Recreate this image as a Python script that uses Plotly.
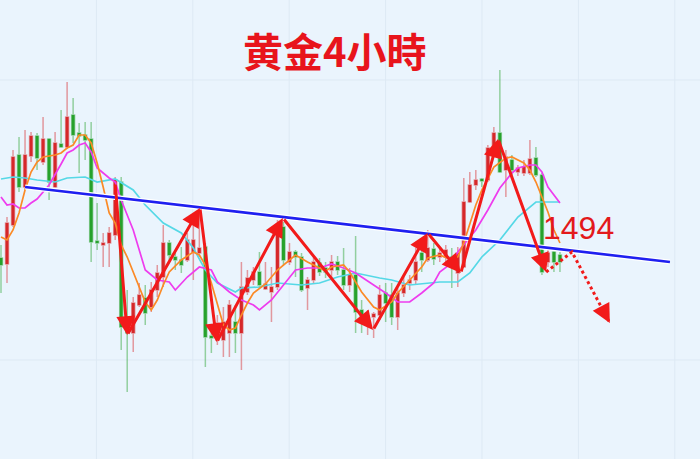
import plotly.graph_objects as go

# 4-hour gold candles (price in USD)
opens = [1492.4, 1491.2, 1499.0, 1513.0, 1506.6, 1512.8, 1516.8, 1511.6, 1516.2, 1506.6,
         1515.2, 1514.6, 1521.0, 1517.4, 1517.0, 1516.2, 1495.8, 1495.0, 1495.4, 1497.0,
         1507.6, 1478.6, 1477.4, 1483.0, 1484.4, 1482.6, 1486.0, 1488.6, 1495.4, 1492.6,
         1492.0, 1492.0, 1493.6, 1493.4, 1494.6, 1476.8, 1476.0, 1476.0, 1477.4, 1479.6,
         1477.4, 1485.6, 1488.0, 1489.6, 1486.2, 1485.6, 1486.6, 1498.6, 1491.6, 1493.6,
         1492.6, 1486.4, 1488.0, 1491.4, 1490.4, 1490.0, 1491.6, 1490.0, 1487.0, 1489.0,
         1482.0, 1480.2, 1480.6, 1481.0, 1485.4, 1485.0, 1480.6, 1485.4, 1487.4, 1488.0,
         1493.4, 1492.0, 1494.2, 1492.6, 1492.6, 1492.6, 1489.4, 1490.6, 1503.6, 1507.0,
         1508.2, 1508.0, 1514.0, 1517.4, 1510.0, 1512.0, 1509.6, 1509.4, 1509.4, 1512.4,
         1509.0, 1491.6, 1493.6, 1493.0]
highs = [1495.0, 1500.6, 1514.0, 1516.6, 1518.0, 1517.6, 1517.4, 1520.6, 1516.4, 1517.6,
         1522.0, 1527.6, 1524.4, 1519.4, 1519.6, 1519.6, 1503.4, 1497.4, 1498.6, 1508.6,
         1508.6, 1486.0, 1484.6, 1487.4, 1487.0, 1487.6, 1491.0, 1499.0, 1496.0, 1493.4,
         1494.6, 1497.4, 1500.6, 1502.6, 1495.4, 1478.0, 1481.0, 1482.6, 1484.0, 1483.0,
         1491.6, 1490.0, 1490.6, 1493.6, 1491.6, 1490.6, 1500.0, 1499.6, 1495.4, 1494.0,
         1493.4, 1488.6, 1492.6, 1492.4, 1491.6, 1493.0, 1492.8, 1494.4, 1490.4, 1496.8,
         1484.0, 1482.0, 1481.6, 1487.0, 1487.4, 1487.4, 1486.4, 1488.6, 1489.0, 1494.4,
         1495.4, 1498.0, 1495.4, 1494.6, 1495.0, 1494.4, 1494.6, 1508.4, 1509.6, 1510.0,
         1508.4, 1515.0, 1518.6, 1530.0, 1514.0, 1513.0, 1511.0, 1512.0, 1516.0, 1514.6,
         1509.4, 1494.4, 1494.0, 1493.6]
lows = [1485.4, 1487.4, 1498.6, 1505.6, 1506.0, 1511.6, 1510.0, 1511.0, 1504.0, 1506.4,
        1514.4, 1514.2, 1515.4, 1509.4, 1512.0, 1491.6, 1494.0, 1490.6, 1490.6, 1496.0,
        1474.0, 1465.6, 1473.6, 1482.6, 1479.0, 1481.6, 1484.6, 1486.6, 1492.0, 1490.0,
        1489.4, 1491.6, 1488.0, 1492.6, 1470.6, 1473.4, 1475.0, 1472.6, 1472.6, 1473.4,
        1470.0, 1485.0, 1487.0, 1486.4, 1486.0, 1479.6, 1486.0, 1491.0, 1491.0, 1488.6,
        1485.6, 1482.0, 1487.4, 1488.8, 1488.4, 1488.0, 1489.0, 1486.0, 1485.6, 1477.4,
        1477.4, 1477.0, 1476.4, 1480.0, 1479.6, 1479.0, 1478.0, 1484.6, 1486.0, 1487.0,
        1489.6, 1491.6, 1491.0, 1491.6, 1491.6, 1486.4, 1486.6, 1490.4, 1503.4, 1506.0,
        1506.6, 1507.6, 1512.6, 1509.4, 1504.6, 1509.0, 1508.8, 1508.8, 1509.0, 1508.6,
        1489.0, 1490.6, 1489.6, 1489.6]
closes = [1491.0, 1499.4, 1512.6, 1506.6, 1513.0, 1516.8, 1512.4, 1516.2, 1507.6, 1515.4,
          1514.6, 1520.6, 1517.0, 1516.8, 1516.0, 1495.6, 1495.4, 1495.4, 1497.4, 1508.0,
          1478.6, 1477.4, 1483.4, 1485.0, 1481.4, 1486.0, 1489.4, 1495.4, 1493.0, 1492.0,
          1491.0, 1496.0, 1496.0, 1494.4, 1476.6, 1476.4, 1479.4, 1479.6, 1483.0, 1477.4,
          1486.6, 1488.4, 1489.6, 1487.0, 1487.2, 1486.6, 1498.4, 1492.0, 1493.6, 1492.6,
          1486.0, 1488.0, 1491.6, 1489.6, 1489.6, 1491.6, 1490.0, 1487.0, 1489.0, 1481.6,
          1480.4, 1480.8, 1481.2, 1485.0, 1483.4, 1480.6, 1485.4, 1487.0, 1488.0, 1491.6,
          1492.0, 1494.4, 1492.2, 1493.4, 1494.0, 1490.6, 1493.4, 1503.6, 1507.0, 1508.0,
          1507.8, 1514.4, 1517.4, 1509.6, 1512.6, 1510.0, 1510.4, 1510.6, 1512.2, 1509.0,
          1489.6, 1493.4, 1491.6, 1491.6]
bars = list(range(len(opens)))

# moving averages, sampled at bar positions
ma_fast_x = [0, 1, 2, 3, 4, 5, 6, 7, 9, 10, 11, 12, 13, 14, 15, 16, 17, 18, 19, 20, 21, 22,
             23, 24, 25, 26, 27, 28, 30, 32, 33, 34, 35, 36, 37, 38, 39, 40, 41, 42, 44, 46,
             48, 49, 51, 53, 54, 55, 57, 58, 60, 62, 63, 65, 66, 68, 70, 71, 73, 75, 76, 77,
             78, 79, 80, 82, 84, 85, 87, 88, 89, 90, 91, 92, 93]
ma_fast_y = [1496.6, 1496.0, 1498.0, 1501.4, 1506.0, 1509.6, 1511.6, 1512.6, 1513.0, 1513.4,
             1514.4, 1515.0, 1517.0, 1517.0, 1515.4, 1511.4, 1506.6, 1501.4, 1499.4, 1495.0,
             1492.6, 1489.6, 1486.6, 1483.6, 1482.0, 1484.0, 1487.0, 1489.6, 1492.0, 1493.6,
             1493.0, 1491.0, 1487.4, 1483.0, 1479.0, 1478.0, 1478.4, 1481.0, 1483.4, 1485.4,
             1487.2, 1490.0, 1492.0, 1493.0, 1491.6, 1490.4, 1489.8, 1490.6, 1491.0, 1489.6,
             1485.6, 1482.6, 1482.0, 1483.6, 1485.4, 1488.0, 1490.6, 1492.4, 1493.0, 1492.0,
             1492.6, 1495.4, 1499.0, 1503.0, 1506.0, 1510.6, 1512.4, 1512.6, 1511.4, 1510.0,
             1507.6, 1504.6, 1501.6, 1498.0, 1495.4]
ma_mid_x = [0, 1, 2, 3, 4, 5, 6, 8, 10, 11, 12, 13, 14, 15, 16, 18, 19, 20, 22, 24, 26, 28,
            29, 31, 33, 35, 36, 38, 40, 42, 43, 45, 47, 49, 51, 53, 55, 57, 59, 62, 64, 66,
            68, 70, 72, 73, 75, 76, 79, 81, 83, 85, 86, 88, 89, 90, 91, 93]
ma_mid_y = [1504.6, 1503.0, 1503.2, 1502.4, 1502.4, 1503.4, 1504.2, 1507.0, 1511.2, 1513.4,
            1514.0, 1515.0, 1515.4, 1513.6, 1510.4, 1508.4, 1507.6, 1504.0, 1498.0, 1490.0,
            1488.0, 1487.6, 1486.0, 1488.6, 1490.6, 1490.0, 1487.6, 1485.6, 1484.0, 1483.0,
            1482.0, 1484.0, 1487.0, 1490.0, 1490.4, 1490.4, 1491.2, 1490.4, 1489.4, 1487.0,
            1485.4, 1483.6, 1483.6, 1485.4, 1487.4, 1489.6, 1491.4, 1493.6, 1498.0, 1502.0,
            1506.4, 1509.4, 1510.4, 1511.0, 1511.0, 1509.6, 1506.6, 1503.4]
ma_slow_x = [0, 2, 4, 6, 9, 11, 14, 16, 19, 22, 24, 27, 30, 32, 34, 36, 39, 40, 43, 46, 50,
             53, 56, 59, 63, 65, 68, 71, 73, 76, 78, 80, 83, 86, 89, 93]
ma_slow_y = [1508.2, 1508.6, 1508.4, 1508.0, 1507.6, 1508.4, 1508.6, 1507.6, 1508.2, 1506.0,
             1503.0, 1499.4, 1497.4, 1494.4, 1490.0, 1487.4, 1485.6, 1486.4, 1486.6, 1487.4,
             1487.0, 1487.4, 1488.6, 1489.4, 1488.4, 1488.0, 1487.0, 1487.4, 1487.6, 1487.6,
             1489.4, 1492.6, 1496.0, 1500.6, 1503.6, 1503.6]

# descending trend line (bar, price)
trend_x = [4.0, 111.3]
trend_y = [1506.6, 1491.6]

# swing path drawn with arrows, then the projected continuation
swing_x = [19.0, 21.0, 33.1, 35.9, 46.9, 61.9, 71.0, 76.5, 82.7, 90.7]
swing_y = [1507.4, 1477.0, 1502.4, 1475.6, 1500.4, 1478.0, 1497.4, 1489.4, 1516.2, 1489.6]
proj_x = [90.7, 95.0, 101.3]
proj_y = [1489.6, 1493.6, 1479.4]

level_label = "1494"
title_text = "黄金4小時"

BG = "#eaf4fd"
RED = "#f21a1a"
UP = "#d6282a"
DOWN = "#27a22c"

fig = go.Figure()

fig.add_trace(go.Candlestick(
    x=bars, open=opens, high=highs, low=lows, close=closes,
    increasing=dict(line=dict(color="rgba(214,40,42,0.45)", width=1.5), fillcolor=UP),
    decreasing=dict(line=dict(color="rgba(39,162,44,0.45)", width=1.5), fillcolor=DOWN),
    showlegend=False, hoverinfo="skip",
))

for xs, ys, col in [(ma_slow_x, ma_slow_y, "#55d8e6"),
                    (ma_mid_x, ma_mid_y, "#ee3cee"),
                    (ma_fast_x, ma_fast_y, "#fb8a26")]:
    fig.add_trace(go.Scatter(x=xs, y=ys, mode="lines", line=dict(color=col, width=1.7),
                             showlegend=False, hoverinfo="skip"))

# trend line with a thin white halo underneath
fig.add_trace(go.Scatter(x=trend_x, y=trend_y, mode="lines",
                         line=dict(color="white", width=5), showlegend=False, hoverinfo="skip"))
fig.add_trace(go.Scatter(x=trend_x, y=trend_y, mode="lines",
                         line=dict(color="#1f1ff0", width=2.6), showlegend=False, hoverinfo="skip"))

annotations = []
for i in range(len(swing_x) - 1):
    annotations.append(dict(
        x=swing_x[i + 1], y=swing_y[i + 1], ax=swing_x[i], ay=swing_y[i],
        xref="x", yref="y", axref="x", ayref="y", text="", showarrow=True,
        arrowhead=2, arrowsize=1.25, arrowwidth=3, arrowcolor=RED,
    ))

# dotted projection segments, each finished with an arrow head
fig.add_trace(go.Scatter(x=proj_x, y=proj_y, mode="lines",
                         line=dict(color=RED, width=3, dash="dot"),
                         showlegend=False, hoverinfo="skip"))
for i in range(len(proj_x) - 1):
    hx, hy = proj_x[i + 1], proj_y[i + 1]
    tx = hx - (hx - proj_x[i]) * 0.15
    ty = hy - (hy - proj_y[i]) * 0.15
    annotations.append(dict(
        x=hx, y=hy, ax=tx, ay=ty, xref="x", yref="y", axref="x", ayref="y",
        text="", showarrow=True, arrowhead=2, arrowsize=1.25, arrowwidth=3, arrowcolor=RED,
    ))

annotations.append(dict(
    x=0.479, y=0.891, xref="paper", yref="paper", text="<b>" + title_text + "</b>",
    showarrow=False, font=dict(family="Noto Sans CJK SC", size=40, color="#e8141c"),
    xanchor="center", yanchor="middle",
))
annotations.append(dict(
    x=0.826, y=0.503, xref="paper", yref="paper", text=level_label,
    showarrow=False, font=dict(family="Liberation Sans, Arial", size=32, color="#e3191b"),
    xanchor="center", yanchor="middle",
))

# faint background grid
shapes = []
for k in range(1, 8):
    xp = 96.4 * k / 700
    shapes.append(dict(type="line", xref="paper", yref="paper", x0=xp, x1=xp, y0=0, y1=1,
                       line=dict(color="#dde9f4", width=1), layer="below"))
for yp in (80, 360):
    shapes.append(dict(type="line", xref="paper", yref="paper", x0=0, x1=1,
                       y0=1 - yp / 459, y1=1 - yp / 459,
                       line=dict(color="#dde9f4", width=1), layer="below"))

fig.update_layout(
    width=700, height=459, margin=dict(l=0, r=0, t=0, b=0),
    paper_bgcolor=BG, plot_bgcolor=BG,
    annotations=annotations, shapes=shapes,
    xaxis=dict(range=[-0.166, 116.3], visible=False, rangeslider=dict(visible=False),
               showgrid=False, zeroline=False),
    yaxis=dict(range=[1452.2, 1544.0], visible=False, showgrid=False, zeroline=False),
)

fig.write_html("out.html")
